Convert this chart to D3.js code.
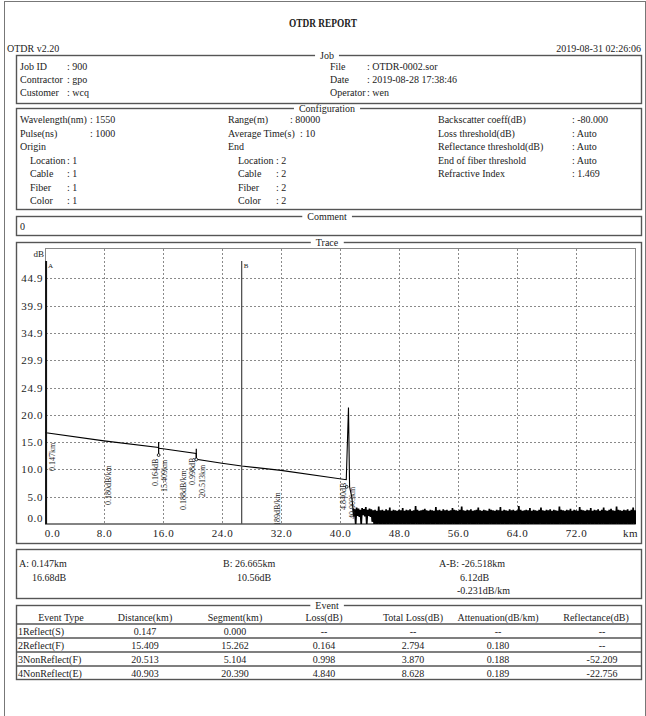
<!DOCTYPE html>
<html><head><meta charset="utf-8">
<script src="https://cdn.jsdelivr.net/npm/d3@7"></script>
<style>
html,body{margin:0;padding:0;background:#fff;}
svg text{font-family:"Liberation Serif","DejaVu Serif",serif;fill:#222;}
</style></head><body>
<svg id="c" width="646" height="716"></svg>
<script>
// ---------------- data ----------------
const yTickValues = [0, 4.99, 9.98, 14.97, 19.96, 24.95, 29.94, 34.93, 39.92, 44.91];
const yTickLabels = ["0.0","5.0","10.0","15.0","20.0","24.9","29.9","34.9","39.9","44.9"];
const xTickValues = [0, 8, 16, 24, 32, 40, 48, 56, 64, 72, 80];
const xTickLabels = ["0.0","8.0","16.0","24.0","32.0","40.0","48.0","56.0","64.0","72.0","km"];

const traceKm = [0, 0.147, 8, 15.40, 15.43, 16, 20.50, 20.53, 24, 26.665, 32, 40.85, 41.15, 41.30, 41.60, 41.75];
const traceDb = [16.8, 16.68, 15.2, 14.0, 13.85, 13.75, 12.9, 11.85, 11.1, 10.6, 9.8, 8.1, 21.3, 6.8, 4.9, 2.9];

const noiseStartKm = 41.75, noiseStepKm = 0.25;
const noiseHighDb = [2.9,2.7,3.0,2.8,2.6,2.9,2.7,3.1,2.6,2.8,2.7,
 2.5,2.6,2.4,3.2,2.5,2.6,2.4,2.7,2.5,3.0,
 2.4,2.6,2.5,2.4,2.6,2.5,2.9,2.4,2.6,2.5,
 2.7,2.4,2.5,3.3,2.6,2.4,2.5,2.6,2.8,2.5,
 2.4,2.6,2.5,2.4,3.1,2.5,2.6,2.4,2.7,2.5,
 2.6,2.4,2.5,2.9,2.6,2.5,2.4,2.6,3.2,2.5,
 2.4,2.6,2.5,2.7,2.4,2.5,2.6,3.0,2.5,2.4,
 2.6,2.5,2.4,2.8,2.6,2.5,2.4,2.6,2.5,3.1,
 2.4,2.6,2.5,2.4,2.7,2.5,2.6,2.4,2.5,3.3,
 2.6,2.4,2.5,2.6,2.5,2.9,2.4,2.6,2.5,2.4,
 2.6,3.0,2.5,2.4,2.6,2.5,2.7,2.4,2.6,2.5,
 2.4,3.2,2.6,2.5,2.4,2.6,2.5,2.8,2.4,2.6,
 2.5,2.4,3.1,2.6,2.5,2.4,2.6,2.5,2.9,2.4,
 2.6,2.5,2.7,2.4,2.6,3.0,2.5,2.4,2.6,2.8,
 2.5,2.4,3.2,2.6,2.5,2.4,2.6,2.5,2.7,2.4,
 2.6,3.0,2.5,2.6];
const noiseLowDb = [1.4,0.0,1.5,1.3,0.0,1.6,1.4,0.0,1.5,1.3,0.4]; // beyond these the floor reaches the axis

const cursorA = {km: 0.147, db: 16.68};
const cursorB = {km: 26.665, db: 10.56};

const eventTypes       = ["1Reflect(S)","2Reflect(F)","3NonReflect(F)","4NonReflect(E)"];
const eventDistance    = ["0.147","15.409","20.513","40.903"];
const eventSegment     = ["0.000","15.262","5.104","20.390"];
const eventLoss        = ["--","0.164","0.998","4.840"];
const eventTotalLoss   = ["--","2.794","3.870","8.628"];
const eventAttenuation = ["--","0.180","0.188","0.189"];
const eventReflectance = ["--","--","-52.209","-22.756"];
const eventMarkTopDb    = [null, 15.0, 13.75, 6.8];
const eventMarkBottomDb = [null, 12.6, 11.8, 6.8];

const tableHeaders = ["Event Type","Distance(km)","Segment(km)","Loss(dB)","Total Loss(dB)","Attenuation(dB/km)","Reflectance(dB)"];

// ---------------- drawing ----------------
const svg = d3.select("#c");
const FS = "10px";

function txt(x, y, s, o = {}) {
  const t = svg.append("text").attr("x", x).attr("y", y).text(s)
    .style("font-size", o.size || FS);
  if (o.anchor) t.attr("text-anchor", o.anchor);
  if (o.weight) t.style("font-weight", o.weight);
  return t;
}
function box(x, y, w, h, legend) {
  svg.append("rect").attr("x", x + 0.5).attr("y", y + 0.5).attr("width", w).attr("height", h)
    .attr("fill", "none").attr("stroke", "#555").attr("stroke-width", 1.4);
  if (legend) {
    const t = txt(327, y + 4, legend, {anchor: "middle"});
    const bb = t.node().getBBox();
    svg.insert("rect", () => t.node()).attr("x", bb.x - 5).attr("y", y - 2)
      .attr("width", bb.width + 10).attr("height", 5).attr("fill", "#fff");
  }
}

// page frame
svg.append("rect").attr("x", 4.5).attr("y", 1.5).attr("width", 641).attr("height", 730)
  .attr("fill", "none").attr("stroke", "#777").attr("stroke-width", 1);

txt(323, 27, "OTDR REPORT", {anchor: "middle", weight: "bold", size: "12px"})
  .attr("textLength", 68).attr("lengthAdjust", "spacingAndGlyphs");
txt(7, 52, "OTDR v2.20");
txt(641, 52, "2019-08-31 02:26:06", {anchor: "end"});

// Job
box(16, 55, 625, 48, "Job");
[["Job ID", ": 900"], ["Contractor", ": gpo"], ["Customer", ": wcq"]].forEach((r, i) => {
  txt(20, 70 + i * 13, r[0]); txt(67, 70 + i * 13, r[1]);
});
[["File", ": OTDR-0002.sor"], ["Date", ": 2019-08-28 17:38:46"], ["Operator", ": wen"]].forEach((r, i) => {
  txt(330, 70 + i * 13, r[0]); txt(367, 70 + i * 13, r[1]);
});

// Configuration
box(16, 108, 625, 101, "Configuration");
const cy = [123, 136.5, 150, 163.5, 177, 190.5, 204];
txt(20, cy[0], "Wavelength(nm)"); txt(90, cy[0], ": 1550");
txt(20, cy[1], "Pulse(ns)"); txt(90, cy[1], ": 1000");
txt(20, cy[2], "Origin");
[["Location", "1"], ["Cable", "1"], ["Fiber", "1"], ["Color", "1"]].forEach((r, i) => {
  txt(30, cy[3 + i], r[0]); txt(67, cy[3 + i], ": " + r[1]);
});
txt(228, cy[0], "Range(m)"); txt(290, cy[0], ": 80000");
txt(228, cy[1], "Average Time(s)"); txt(300, cy[1], ": 10");
txt(228, cy[2], "End");
[["Location", "2"], ["Cable", "2"], ["Fiber", "2"], ["Color", "2"]].forEach((r, i) => {
  txt(238, cy[3 + i], r[0]); txt(276, cy[3 + i], ": " + r[1]);
});
[["Backscatter coeff(dB)", ": -80.000"], ["Loss threshold(dB)", ": Auto"], ["Reflectance threshold(dB)", ": Auto"],
 ["End of fiber threshold", ": Auto"], ["Refractive Index", ": 1.469"]].forEach((r, i) => {
  txt(438, cy[i], r[0]); txt(572, cy[i], r[1]);
});

// Comment
box(16, 216, 625, 19, "Comment");
txt(20, 229.5, "0");

// Trace
box(16, 242, 625, 301, "Trace");
const x = d3.scaleLinear().domain([0, 80]).range([45, 635]);
const y = d3.scaleLinear().domain([0, 49.9]).range([524, 251]);

svg.append("rect").attr("x", 45.5).attr("y", 248.5).attr("width", 590).attr("height", 275.5)
  .attr("fill", "#fff").attr("stroke", "#888").attr("stroke-width", 1);

const grid = svg.append("g").attr("stroke", "#8a8a8a").attr("stroke-width", 1).attr("stroke-dasharray", "2,2");
yTickValues.slice(1).forEach(v => grid.append("line").attr("x1", 46).attr("x2", 635)
  .attr("y1", Math.round(y(v)) + 0.5).attr("y2", Math.round(y(v)) + 0.5));
xTickValues.slice(1, -1).forEach(v => grid.append("line").attr("y1", 249).attr("y2", 524)
  .attr("x1", Math.round(x(v)) + 0.5).attr("x2", Math.round(x(v)) + 0.5));

// bottom axis line
svg.append("line").attr("x1", 45).attr("x2", 635.5).attr("y1", 524).attr("y2", 524).attr("stroke", "#444").attr("stroke-width", 1.2);

// axes labels
const yAxis = svg.append("g").attr("transform", "translate(45,0)")
  .call(d3.axisLeft(y).tickValues(yTickValues).tickFormat((d, i) => yTickLabels[i]).tickSize(0).tickPadding(2));
yAxis.select(".domain").remove();
yAxis.selectAll("text").style("font-family", '"Liberation Serif",serif').style("font-size", "11px")
  .style("letter-spacing", "0.6px").attr("fill", "#333");
yAxis.selectAll(".tick").filter((d, i) => i === 0).select("text").attr("dy", "-0.2em");

const xAxis = svg.append("g").attr("transform", "translate(0,524)")
  .call(d3.axisBottom(x).tickValues(xTickValues).tickFormat((d, i) => xTickLabels[i]).tickSize(0).tickPadding(5));
xAxis.select(".domain").remove();
xAxis.selectAll("text").style("font-family", '"Liberation Serif",serif').style("font-size", "11px")
  .style("letter-spacing", "0.6px").attr("fill", "#333");
xAxis.selectAll(".tick").filter((d, i) => i === 0).select("text").attr("dx", 7);
xAxis.selectAll(".tick").filter((d, i) => i === xTickValues.length - 1).select("text").attr("dx", -5);

txt(44, 257, "dB", {anchor: "end", size: "9px"}).attr("fill", "#333");

// clip
svg.append("clipPath").attr("id", "plotclip").append("rect")
  .attr("x", 45).attr("y", 249).attr("width", 591).attr("height", 275);
const plot = svg.append("g").attr("clip-path", "url(#plotclip)");

// trace (fiber section)
plot.append("path").datum(traceKm.map((k, i) => [k, traceDb[i]]))
  .attr("d", d3.line().x(d => x(d[0])).y(d => y(d[1])))
  .attr("fill", "none").attr("stroke", "#000").attr("stroke-width", 1.1);

// noise floor after the fiber end
const npts = [];
noiseHighDb.forEach((h, i) => {
  const k = noiseStartKm + i * noiseStepKm;
  npts.push([k, h]);
  npts.push([k + noiseStepKm / 2, i < noiseLowDb.length ? noiseLowDb[i] : 0]);
});
plot.append("path").datum(npts)
  .attr("d", d3.line().x(d => x(d[0])).y(d => y(d[1])))
  .attr("fill", "none").attr("stroke", "#000").attr("stroke-width", 1.7);

// cursors
plot.append("line").attr("x1", x(cursorA.km)).attr("x2", x(cursorA.km)).attr("y1", 261).attr("y2", 524)
  .attr("stroke", "#111").attr("stroke-width", 2);
plot.append("line").attr("x1", x(cursorB.km)).attr("x2", x(cursorB.km)).attr("y1", 261).attr("y2", 524)
  .attr("stroke", "#555").attr("stroke-width", 1.3);
txt(x(cursorA.km) + 2, 268, "A", {size: "7px"});
txt(x(cursorB.km) + 2, 268, "B", {size: "7px"});

// event markers
const eventKm = eventDistance.map(Number);
eventKm.forEach((k, i) => {
  if (eventMarkTopDb[i] == null) return;
  plot.append("line").attr("x1", x(k)).attr("x2", x(k))
    .attr("y1", y(eventMarkTopDb[i])).attr("y2", y(eventMarkBottomDb[i]))
    .attr("stroke", "#000").attr("stroke-width", 1.2);
  plot.append("circle").attr("cx", x(k)).attr("cy", y(eventMarkBottomDb[i])).attr("r", 1.4)
    .attr("fill", "#fff").attr("stroke", "#000").attr("stroke-width", 0.8);
});

// event labels (rotated)
const kmStartY = [471, 492, 497, 519];
const lossStartY = [null, 486, 485, 510];
const attStartY = [null, 505, 510, 532];
function vlabel(bx, sy, s) {
  plot.append("text").attr("transform", `translate(${bx},${sy}) rotate(-90)`)
    .text(s).style("font-size", "8px").attr("fill", "#111");
}
eventKm.forEach((k, i) => {
  vlabel(x(k) + 8.5, kmStartY[i], eventDistance[i] + "km");
  if (i > 0) {
    vlabel(x(k) - 1, lossStartY[i], eventLoss[i] + "dB");
    vlabel(x((eventKm[i - 1] + k) / 2) + 8.5, attStartY[i], eventAttenuation[i] + "dB/km");
  }
});

// Summary
box(16, 549, 625, 49);
txt(19, 567, "A: " + cursorA.km.toFixed(3) + "km");
txt(32, 580.5, cursorA.db.toFixed(2) + "dB");
txt(223, 567, "B: " + cursorB.km.toFixed(3) + "km");
txt(237, 580.5, cursorB.db.toFixed(2) + "dB");
const dKm = cursorA.km - cursorB.km, dDb = cursorA.db - cursorB.db;
txt(439, 567, "A-B: " + dKm.toFixed(3) + "km");
txt(460, 580.5, dDb.toFixed(2) + "dB");
txt(457, 594, (dDb / dKm).toFixed(3) + "dB/km");

// Event table
box(16, 605, 625, 74, "Event");
const colX = [61, 145, 235, 324, 413, 498, 596];
tableHeaders.forEach((h, i) => txt(colX[i], 620.5, h, {anchor: "middle"}).attr("fill", "#333"));
[623.5, 637.5, 651.5, 665.5].forEach(v => svg.append("line").attr("x1", 16).attr("x2", 641.5)
  .attr("y1", v + 0.5).attr("y2", v + 0.5).attr("stroke", "#555").attr("stroke-width", 1.3));
const valCols = [eventDistance, eventSegment, eventLoss, eventTotalLoss, eventAttenuation];
eventTypes.forEach((t, r) => {
  const by = 634.5 + r * 14;
  txt(18, by, t);
  valCols.forEach((col, c) => txt(colX[c + 1], by, col[r], {anchor: "middle"}));
  txt(602, by, eventReflectance[r], {anchor: "middle"});
});
</script>
</body></html>
